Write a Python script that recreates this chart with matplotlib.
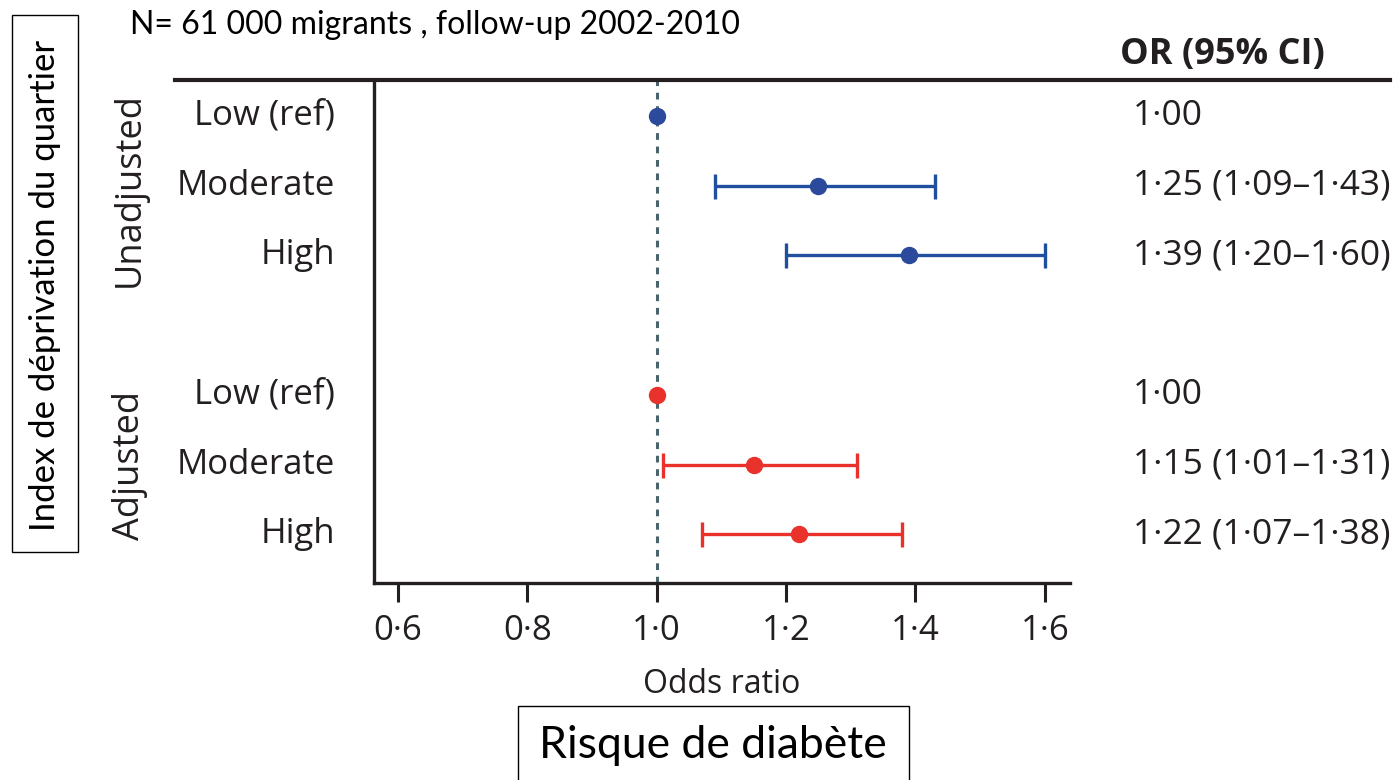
import matplotlib.pyplot as plt
from matplotlib.lines import Line2D
from matplotlib.patches import Rectangle

# data
groups = ["Unadjusted", "Adjusted"]
levels = ["Low (ref)", "Moderate", "High"]
unadj_or = [1.00, 1.25, 1.39]
unadj_lo = [1.00, 1.09, 1.20]
unadj_hi = [1.00, 1.43, 1.60]
adj_or = [1.00, 1.15, 1.22]
adj_lo = [1.00, 1.01, 1.07]
adj_hi = [1.00, 1.31, 1.38]
xticks = [0.6, 0.8, 1.0, 1.2, 1.4, 1.6]

blue = "#1f4f9e"
blue_dot = "#2c4a9c"
red = "#e8322b"
txt = "#231f20"

plt.rcParams["font.family"] = ["Open Sans", "DejaVu Sans"]

fig = plt.figure(figsize=(13.97, 7.80), dpi=100)
W, H = 1397, 780
ax = fig.add_axes([374 / W, 1 - 583 / H, (1070 - 374) / W, (583 - 80) / H])


def fmt(v, nd):
    return f"{v:.{nd}f}".replace(".", "\u00b7")


def or_text(o, lo, hi):
    if o == lo == hi:
        return fmt(o, 2)
    return f"{fmt(o, 2)} ({fmt(lo, 2)}\u2013{fmt(hi, 2)})"


ypos_u = [0, 1, 2]
ypos_a = [4, 5, 6]

ax.axvline(1.0, color="#4a646c", linestyle=(0, (2.2, 2.2)), lw=2.2, zorder=1)

for ys, ors, los, his, c, cd in [(ypos_u, unadj_or, unadj_lo, unadj_hi, blue, blue_dot),
                                 (ypos_a, adj_or, adj_lo, adj_hi, red, red)]:
    for i, (y, o, lo, hi) in enumerate(zip(ys, ors, los, his)):
        if hi > lo:
            ax.errorbar(o, y, xerr=[[o - lo], [hi - o]], fmt="none", ecolor=c,
                        elinewidth=2.4, capsize=9, capthick=2.4, zorder=2)
        ax.plot(o, y, "o", color=cd, markersize=11.5, zorder=3)
        ax.text(1133 / W, 1 - (116 + 69.7 * y) / H, or_text(o, lo, hi),
                transform=fig.transFigure, ha="left", va="center",
                fontsize=25.5, color=txt)
        ax.text(335 / W, 1 - (116 + 69.7 * y) / H, levels[i],
                transform=fig.transFigure, ha="right", va="center",
                fontsize=25, color=txt)

ax.set_xlim(0.563, 1.639)
ax.set_ylim(6.70, -0.517)
ax.set_xticks(xticks)
ax.set_xticklabels([fmt(v, 1) for v in xticks], fontsize=25, color=txt)
ax.set_yticks([])
ax.tick_params(axis="x", direction="out", length=13.5, width=2.2, pad=9, color=txt)
for s in ["top", "right"]:
    ax.spines[s].set_visible(False)
for s in ["left", "bottom"]:
    ax.spines[s].set_linewidth(2.4)
    ax.spines[s].set_color(txt)
ax.set_xlabel("Odds ratio", fontsize=23, color=txt, labelpad=14)

# top rule and header
fig.add_artist(Line2D([175 / W, 1390 / W], [1 - 80 / H, 1 - 80 / H],
                      color=txt, lw=3))
fig.text(1120 / W, 1 - 55 / H, "OR (95% CI)", fontsize=26, fontweight="bold",
         ha="left", va="center", color=txt)

fig.text(130 / W, 1 - 190 / H, groups[0], rotation=90, fontsize=26,
         ha="center", va="center", color=txt)
fig.text(130 / W, 1 - 465 / H, groups[1], rotation=90, fontsize=26,
         ha="center", va="center", color=txt)

fig.text(130 / W, 1 - 25 / H, "N= 61 000 migrants , follow-up 2002-2010",
         fontsize=23, ha="left", va="center", family=["Lato", "DejaVu Sans"])

# boxed side label
fig.add_artist(Rectangle((12 / W, 1 - 552 / H), 66 / W, 537 / H,
                         transform=fig.transFigure, fill=False, ec="black", lw=1))
fig.text(45 / W, 1 - 285 / H, "Index de d\u00e9privation du quartier",
         rotation=90, fontsize=25, ha="center", va="center",
         family=["Lato", "DejaVu Sans"])

# boxed bottom label
fig.add_artist(Rectangle((518 / W, -0.05), 391 / W, 0.05 + 74 / H,
                         transform=fig.transFigure, fill=False, ec="black", lw=1))
fig.text(713 / W, 1 - 745 / H, "Risque de diab\u00e8te", fontsize=32,
         ha="center", va="center", family=["Lato", "DejaVu Sans"])

fig.savefig("out.png", dpi=100)
